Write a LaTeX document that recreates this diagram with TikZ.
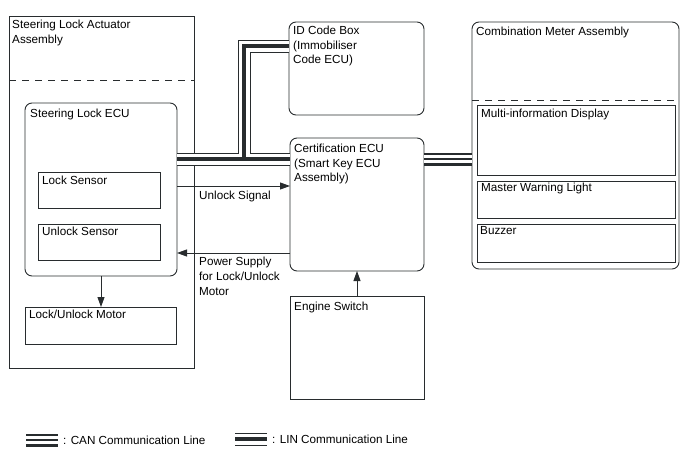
\documentclass[tikz,border=0pt]{standalone}
\usepackage{fontspec}
\setmainfont{Liberation Sans}
\usetikzlibrary{arrows.meta}
\usetikzlibrary{positioning}
\definecolor{inkgray}{RGB}{40, 44, 46}

\tikzset{
  blk/.style={draw=inkgray, line width=0.9pt, anchor=north west, inner sep=0pt, outer sep=0pt},
  rblk/.style={blk, rounded corners=7pt},
  txt/.style={anchor=north west, align=left, inner sep=0pt, text=black,
              font=\fontsize{11.7}{14.5}\selectfont},
  sig/.style={draw=inkgray, line width=0.9pt, -{Triangle[length=10pt,width=7pt]}},
  busout/.style={draw=inkgray, line width=13pt},
  buswhite/.style={draw=white, line width=11pt},
  linmid/.style={draw=inkgray, line width=3.4pt},
  canwhite/.style={draw=white, line width=7.4pt},
  canmid/.style={draw=inkgray, line width=1.2pt},
}

\begin{document}
\begin{tikzpicture}[x=1pt, y=-1pt]
            \useasboundingbox (0,0) rectangle (688,463);
            % steering lock side
            \node[blk,  minimum width=185, minimum height=352] (actuator)  at (  9, 16) {};
            \draw[inkgray, line width=0.9pt, dash pattern=on 7pt off 6pt]  (  9, 80) -- (194, 80);
            \node[rblk, minimum width=152, minimum height=173] (steerecu)  at ( 25,103) {};
            \node[blk,  minimum width=122, minimum height= 36] (locksens)  at ( 38,172) {};
            \node[blk,  minimum width=122, minimum height= 36] (unlocksens)at ( 38,224) {};
            \node[blk,  minimum width=151, minimum height= 37] (motor)     at ( 25,307) {};
            % middle column
            \node[rblk, minimum width=135, minimum height= 93] (idbox)     at (289, 22) {};
            \node[rblk, minimum width=134, minimum height=133] (certecu)   at (290,138) {};
            \node[blk,  minimum width=134, minimum height=103] (engsw)     at (290,296) {};
            % combination meter
            \node[rblk, minimum width=207, minimum height=247] (meter)     at (472, 22) {};
            \draw[inkgray, line width=0.9pt, dash pattern=on 7pt off 6pt]  (472,100) -- (679,100);
            \node[blk,  minimum width=198, minimum height= 70] (mid)       at (477,105) {};
            \node[blk,  minimum width=198, minimum height= 37] (warnlight) at (477,181) {};
            \node[blk,  minimum width=198, minimum height= 38] (buzzer)    at (477,224) {};

            % labels
            \node[txt, below right=4pt and 3pt of actuator.north west]   (actuatorlbl) {Steering Lock Actuator\\Assembly};
            \node[txt, below right=6pt and 5pt of steerecu.north west]   (steerecutxt) {Steering Lock ECU};
            \node[txt, below right=4pt and 4pt of locksens.north west]   (locksenstxt) {Lock Sensor};
            \node[txt, below right=3pt and 4pt of unlocksens.north west] (unlocktxt)   {Unlock Sensor};
            \node[txt, below right=3pt and 4pt of motor.north west]      (motortxt)    {Lock/Unlock Motor};
            \node[txt, below right=4pt and 4pt of idbox.north west]      (idboxtxt)    {ID Code Box\\(Immobiliser\\Code ECU)};
            \node[txt, below right=6pt and 4pt of certecu.north west]    (certtxt)     {Certification ECU\\(Smart Key ECU\\Assembly)};
            \node[txt, below right=6pt and 4pt of engsw.north west]      (engswtxt)    {Engine Switch};
            \node[txt, below right=5pt and 4pt of meter.north west]      (metertxt)    {Combination Meter Assembly};
            \node[txt, below right=4pt and 4pt of mid.north west]        (midtxt)      {Multi-information Display};
            \node[txt, below right=2pt and 4pt of warnlight.north west]  (warntxt)     {Master Warning Light};
            \node[txt, below right=2pt and 3pt of buzzer.north west]     (buzzertxt)   {Buzzer};

            % signal lines
            \coordinate (unlocky) at (0,186);
            \coordinate (powery)  at (0,253);
            \draw[sig] (steerecu.east |- unlocky) -- (certecu.west |- unlocky);
            \draw[sig] (certecu.west |- powery)   -- (steerecu.east |- powery);
            \draw[sig] (steerecu.south) -- (motor.north -| steerecu.south);
            \draw[sig] (engsw.north) -- (certecu.south -| engsw.north);
            \node[txt] (unlocklbl) at (199,191) {Unlock Signal};
            \node[txt, font=\fontsize{11.7}{15}\selectfont] (powerlbl)  at (199,257) {Power Supply\\for Lock/Unlock\\Motor};

            % communication lines
            \coordinate (busy)   at (0,159);
            \coordinate (lintap) at (244,159);
            \coordinate (linup)  at (244, 46);
            \coordinate (idy)    at (0, 46);
            \foreach \sty in {busout, buswhite, linmid}
                \path[\sty] (steerecu.east |- busy) -- (certecu.west |- busy)
                            (lintap) -- (linup) -- (idbox.west |- idy);
            \foreach \sty in {busout, canwhite, canmid}
                \path[\sty] (certecu.east |- busy) -- (meter.west |- busy);

            % legend
            \coordinate (canA) at ( 26,440);
            \coordinate (canB) at ( 58,440);
            \coordinate (linA) at (235,439);
            \coordinate (linB) at (267,439);
            \foreach \sty in {busout, canwhite, canmid}
                \path[\sty] (canA) -- (canB);
            \foreach \sty in {busout, buswhite, linmid}
                \path[\sty] (linA) -- (linB);
            \node[txt, anchor=west] (canlbl) at ( 63,440) {: CAN Communication Line};
            \node[txt, anchor=west] (linlbl) at (272,439) {: LIN Communication Line};
\end{tikzpicture}
\end{document}
